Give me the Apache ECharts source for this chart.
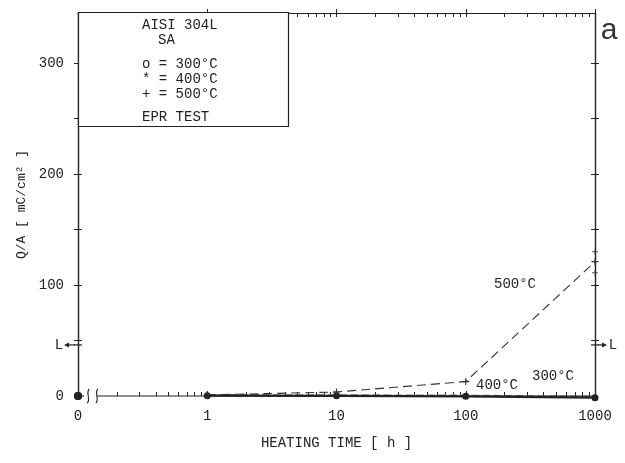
<!DOCTYPE html>
<html>
<head>
<meta charset="utf-8">
<script src="https://cdn.jsdelivr.net/npm/echarts@6/dist/echarts.min.js"></script>
<style>
  html, body { margin: 0; padding: 0; background: #fff; }
  #chart { width: 625px; height: 463px; }
</style>
</head>
<body>
<div id="chart"></div>
<script>
// EPR test, AISI 304L solution annealed: reactivation charge vs. heating time
const heatingTimes = [1, 10, 100, 1000];          // h
const ZERO_TIME_POS = 0.1;                        // log-axis position standing for t = 0 h
const chargeAtZero = [0, 0, 0];                   // 300 / 400 / 500 °C before heating
const q300 = [0.3, 0.2, -0.3, -1.5];              // mC/cm²
const q400 = [0.8, 0.6, 0.3, -1.0];
const q500 = [1.0, 3.6, 13, 121];
const q500At1000Extra = [130, 111];               // further 500 °C readings at 1000 h
const L_LEVEL = 46;                               // limit value marked "L"

const xLabelValues = [ZERO_TIME_POS, 1, 10, 100, 1000];
const xLabelTexts = ['0', '1', '10', '100', '1000'];
const xMajorTicks = [1, 10, 100, 1000];
const yLabelValues = [0, 100, 200, 300];
const yTickValues = [50, 100, 150, 200, 250, 300];

const BREAK_FROM = 0.12, BREAK_TO = 0.14;
const Y_MAX = 345;

const INK = '#222';
const FONT = 'Liberation Mono';

// log minor ticks 2..9 in each decade
const xMinorTicks = [];
[0.1, 1, 10, 100].forEach(d => { for (let k = 2; k <= 9; k++) xMinorTicks.push(+(d * k).toPrecision(3)); });
const xMinorBottom = xMinorTicks.filter(v => v > BREAK_TO);

const crossSymbol = 'path://M4.2,0H5.8V4.2H10V5.8H5.8V10H4.2V5.8H0V4.2H4.2Z';

function xLabel(v) {
  for (let i = 0; i < xLabelValues.length; i++) {
    if (Math.abs(Math.log10(v) - Math.log10(xLabelValues[i])) < 1e-6) return xLabelTexts[i];
  }
  return '';
}

const xBase = { type: 'log', logBase: 10, min: ZERO_TIME_POS, max: 1000, gridIndex: 0, splitLine: { show: false } };
const yBase = { type: 'value', min: 0, max: Y_MAX, gridIndex: 0, splitLine: { show: false } };
const tickStyle = { color: INK, width: 1 };

const chart = echarts.init(document.getElementById('chart'), null, { renderer: 'canvas' });

const option = {
  backgroundColor: '#fff',
  animation: false,
  grid: { left: 78, right: 30, top: 13, bottom: 67 },
  xAxis: [
    Object.assign({}, xBase, {
      position: 'bottom',
      axisLine: { show: false, onZero: false },
      axisTick: { show: true, inside: true, length: 5, customValues: xMajorTicks, lineStyle: tickStyle },
      axisLabel: { show: true, customValues: xLabelValues, formatter: xLabel, margin: 13,
                   fontFamily: FONT, fontSize: 14, color: INK },
      name: 'HEATING TIME [ h ]', nameLocation: 'middle', nameGap: 40,
      nameTextStyle: { fontFamily: FONT, fontSize: 14, color: INK }
    }),
    Object.assign({}, xBase, {
      position: 'bottom',
      axisLine: { show: false, onZero: false },
      axisLabel: { show: false },
      axisTick: { show: true, inside: true, length: 4, customValues: xMinorBottom, lineStyle: tickStyle }
    }),
    Object.assign({}, xBase, {
      position: 'top',
      axisLine: { show: true, onZero: false, lineStyle: { color: INK, width: 1.2 } },
      axisLabel: { show: false },
      axisTick: { show: true, inside: false, length: 4, customValues: xMajorTicks, lineStyle: tickStyle }
    }),
    Object.assign({}, xBase, {
      position: 'top',
      axisLine: { show: false, onZero: false },
      axisLabel: { show: false },
      axisTick: { show: true, inside: true, length: 4, customValues: xMinorTicks.concat(xMajorTicks), lineStyle: tickStyle }
    })
  ],
  yAxis: [
    Object.assign({}, yBase, {
      position: 'left',
      axisLine: { show: true, onZero: false, lineStyle: { color: INK, width: 1.4 } },
      axisTick: { show: true, inside: true, length: 4, customValues: yTickValues, lineStyle: tickStyle },
      axisLabel: { show: true, customValues: yLabelValues, margin: 14, fontFamily: FONT, fontSize: 14, color: INK },
      name: 'Q/A [ mC/cm² ]', nameLocation: 'middle', nameGap: 50, nameRotate: 90,
      nameTextStyle: { fontFamily: FONT, fontSize: 13, color: INK }
    }),
    Object.assign({}, yBase, {
      position: 'left',
      axisLine: { show: false, onZero: false },
      axisLabel: { show: false },
      axisTick: { show: true, inside: false, length: 4, customValues: yTickValues, lineStyle: tickStyle }
    }),
    Object.assign({}, yBase, {
      position: 'right',
      axisLine: { show: true, onZero: false, lineStyle: { color: INK, width: 1.4 } },
      axisLabel: { show: false },
      axisTick: { show: true, inside: true, length: 4, customValues: yTickValues, lineStyle: tickStyle }
    }),
    Object.assign({}, yBase, {
      position: 'right',
      axisLine: { show: false, onZero: false },
      axisLabel: { show: false },
      axisTick: { show: true, inside: false, length: 4, customValues: yTickValues, lineStyle: tickStyle }
    })
  ],
  series: [
    {
      name: '400 °C', type: 'line', xAxisIndex: 0, yAxisIndex: 0, clip: false, z: 3,
      data: heatingTimes.map((t, i) => [t, q400[i]]),
      symbol: 'diamond', symbolSize: 6,
      itemStyle: { color: '#444' },
      lineStyle: { color: '#777', width: 2.2, type: [8, 3] }
    },
    {
      name: '300 °C', type: 'line', xAxisIndex: 0, yAxisIndex: 0, clip: false, z: 4,
      data: heatingTimes.map((t, i) => [t, q300[i]]),
      symbol: 'circle', symbolSize: 7,
      itemStyle: { color: INK },
      lineStyle: { color: INK, width: 2.2 }
    },
    {
      name: '500 °C', type: 'line', xAxisIndex: 0, yAxisIndex: 0, clip: false, z: 5,
      data: heatingTimes.map((t, i) => [t, q500[i]]),
      symbol: crossSymbol, symbolSize: 7,
      itemStyle: { color: '#333' },
      lineStyle: { color: '#333', width: 1.1, type: [9, 5] }
    },
    {
      name: '500 °C (1000 h)', type: 'scatter', xAxisIndex: 0, yAxisIndex: 0, z: 5,
      data: q500At1000Extra.map(v => [1000, v]),
      symbol: crossSymbol, symbolSize: 6,
      itemStyle: { color: '#333' }
    },
    {
      name: '0 h', type: 'scatter', xAxisIndex: 0, yAxisIndex: 0, clip: false, z: 6,
      data: chargeAtZero.map(v => [ZERO_TIME_POS, v]),
      symbol: 'circle', symbolSize: 8,
      itemStyle: { color: INK }
    }
  ]
};

chart.setOption(option);

// axis decorations placed through the axis scales
const px = (x, y) => chart.convertToPixel({ xAxisIndex: 0, yAxisIndex: 0 }, [x, y]);
const p0 = px(ZERO_TIME_POS, 0);
const pB1 = px(BREAK_FROM, 0);
const pB2 = px(BREAK_TO, 0);
const pEnd = px(1000, 0);
const pL = px(ZERO_TIME_POS, L_LEVEL);
const pR = px(1000, L_LEVEL);
const y0 = p0[1];

function breakCurve(x) {
  return {
    type: 'bezierCurve', z: 10,
    shape: { x1: x + 1, y1: y0 - 7, cpx1: x - 3, cpy1: y0 - 3, cpx2: x + 3, cpy2: y0 + 3, x2: x - 1, y2: y0 + 7 },
    style: { stroke: INK, lineWidth: 1.1, fill: null }
  };
}

const stroke = { stroke: INK, lineWidth: 1.2 };
const textStyle = (t, x, y, extra) => ({
  type: 'text', x: x, y: y, z: 10,
  style: Object.assign({ text: t, fontFamily: FONT, fontSize: 14, fill: INK, textVerticalAlign: 'middle' }, extra || {})
});

chart.setOption({
  graphic: { elements: [
    // bottom axis line with break near the origin
    { type: 'line', z: 10, shape: { x1: p0[0], y1: y0, x2: p0[0] + 6, y2: y0 }, style: stroke },
    { type: 'line', z: 10, shape: { x1: pB2[0], y1: y0, x2: pEnd[0], y2: y0 }, style: stroke },
    breakCurve(pB1[0]),
    breakCurve(pB2[0]),
    // limit marks "L"
    { type: 'line', z: 10, shape: { x1: pL[0] - 4, y1: pL[1], x2: pL[0] + 4, y2: pL[1] }, style: stroke },
    { type: 'line', z: 10, shape: { x1: pL[0] - 3, y1: pL[1], x2: pL[0] - 12, y2: pL[1] }, style: stroke },
    { type: 'polygon', z: 10, shape: { points: [[pL[0] - 14, pL[1]], [pL[0] - 9, pL[1] - 2.5], [pL[0] - 9, pL[1] + 2.5]] }, style: { fill: INK } },
    textStyle('L', pL[0] - 19, pL[1], { textAlign: 'center' }),
    { type: 'line', z: 10, shape: { x1: pR[0] - 4, y1: pR[1], x2: pR[0] + 4, y2: pR[1] }, style: stroke },
    { type: 'line', z: 10, shape: { x1: pR[0] + 3, y1: pR[1], x2: pR[0] + 10, y2: pR[1] }, style: stroke },
    { type: 'polygon', z: 10, shape: { points: [[pR[0] + 12, pR[1]], [pR[0] + 7, pR[1] - 2.5], [pR[0] + 7, pR[1] + 2.5]] }, style: { fill: INK } },
    textStyle('L', pR[0] + 18, pR[1], { textAlign: 'center' }),
    // legend box
    { type: 'rect', z: 8, shape: { x: 78.5, y: 12.5, width: 210, height: 114 }, style: { fill: '#fff', stroke: INK, lineWidth: 1.2 } },
    textStyle('AISI 304L', 142, 25),
    textStyle('SA', 158, 40),
    textStyle('o = 300°C', 142, 64),
    textStyle('* = 400°C', 142, 79),
    textStyle('+ = 500°C', 142, 94),
    textStyle('EPR TEST', 142, 117),
    // series labels
    textStyle('500°C', 515, 284, { textAlign: 'center' }),
    textStyle('400°C', 497, 385, { textAlign: 'center' }),
    textStyle('300°C', 553, 376, { textAlign: 'center' }),
    // panel letter
    { type: 'text', x: 609, y: 31, z: 10,
      style: { text: 'a', fontFamily: 'Liberation Sans', fontSize: 30, fill: '#333', textAlign: 'center', textVerticalAlign: 'middle' } }
  ] }
});
</script>
</body>
</html>
